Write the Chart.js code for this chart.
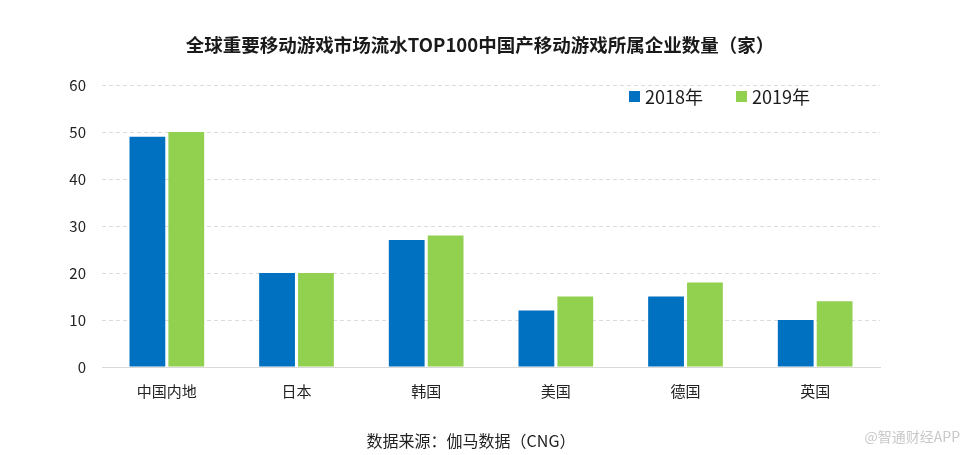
<!DOCTYPE html>
<html>
<head>
<meta charset="utf-8">
<script src="https://cdn.jsdelivr.net/npm/chart.js@4/dist/chart.umd.min.js"></script>
<style>
  html, body { margin: 0; padding: 0; background: #fff; }
  #wrap { width: 970px; height: 455px; }
</style>
</head>
<body>
<div id="wrap"><canvas id="gameChart" width="970" height="455"></canvas></div>
<script>
const categories = ['中国内地', '日本', '韩国', '美国', '德国', '英国'];
const values2018 = [49, 20, 27, 12, 15, 10];
const values2019 = [50, 20, 28, 15, 18, 14];
const seriesNames = ['2018年', '2019年'];
const yTicks = [0, 10, 20, 30, 40, 50, 60];

const FONT = '"Noto Sans CJK SC", "Noto Sans", sans-serif';

// title, legend, source line and watermark
const decorations = {
    id: 'decorations',
    afterDraw(chart) {
        const ctx = chart.ctx;
        ctx.save();
        ctx.textBaseline = 'middle';

        ctx.fillStyle = '#1a1a1a';
        ctx.font = 'bold 18.5px ' + FONT;
        ctx.textAlign = 'center';
        ctx.fillText('全球重要移动游戏市场流水TOP100中国产移动游戏所属企业数量（家）', 480, 45);

        ctx.font = '18px ' + FONT;
        ctx.textAlign = 'left';
        let x = 629;
        chart.data.datasets.forEach(ds => {
            ctx.fillStyle = ds.backgroundColor;
            ctx.fillRect(x, 91, 11, 11);
            ctx.fillStyle = '#1a1a1a';
            ctx.fillText(ds.label, x + 16, 97);
            x += 107;
        });

        ctx.font = '16px ' + FONT;
        ctx.textAlign = 'center';
        ctx.fillStyle = '#222';
        ctx.fillText('数据来源：伽马数据（CNG）', 471, 441);

        ctx.font = '14px ' + FONT;
        ctx.textAlign = 'right';
        ctx.fillStyle = '#c8c8c8';
        ctx.fillText('@智通财经APP', 960, 437);
        ctx.restore();
    }
};

new Chart(document.getElementById('gameChart'), {
    type: 'bar',
    data: {
        labels: categories,
        datasets: [
            { label: seriesNames[0], data: values2018, backgroundColor: '#0070C0' },
            { label: seriesNames[1], data: values2019, backgroundColor: '#92D050' }
        ]
    },
    options: {
        responsive: false,
        animation: false,
        devicePixelRatio: 1,
        layout: { padding: { left: 62, right: 90, top: 85, bottom: 48 } },
        datasets: { bar: { categoryPercentage: 0.6, barPercentage: 0.92 } },
        plugins: {
            legend: { display: false },
            title: { display: false },
            tooltip: { enabled: false }
        },
        scales: {
            x: {
                afterFit: s => { s.height = 40; },
                grid: { display: false },
                border: { display: true, color: '#d9d9d9', width: 1 },
                ticks: { color: '#222', padding: 7, font: { family: FONT, size: 15 } }
            },
            y: {
                min: 0,
                max: 60,
                afterFit: s => { s.width = 40; },
                afterBuildTicks: s => { s.ticks = yTicks.map(v => ({ value: v })); },
                grid: { color: '#dcdcdc', drawTicks: false },
                border: { display: false, dash: [4, 3] },
                ticks: { color: '#222', padding: 16, font: { family: FONT, size: 15 } }
            }
        }
    },
    plugins: [decorations]
});
</script>
</body>
</html>
